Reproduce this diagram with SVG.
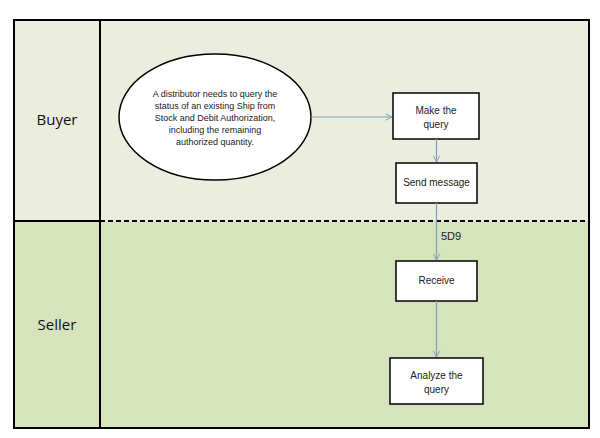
<svg xmlns="http://www.w3.org/2000/svg" width="600" height="438" viewBox="0 0 600 438">
<defs>
<marker id="arr" viewBox="0 0 10 10" refX="9" refY="5" markerWidth="8" markerHeight="8" markerUnits="userSpaceOnUse" orient="auto">
<path d="M1,1 L9,5 L1,9" fill="none" stroke="#7f9fbf" stroke-width="1.2"/>
</marker>
<style>
.box{fill:#ffffff;stroke:#000000;stroke-width:1.5}
.t{font-family:"Liberation Sans",Arial,sans-serif;font-size:10px;fill:#222;text-anchor:middle}
.lane{font-family:"Open Sans","Noto Sans",sans-serif;font-size:15px;fill:#111;text-anchor:middle}
.conn{stroke:#7f9fbf;stroke-width:1.2;fill:none}
</style>
</defs>
<rect width="600" height="438" fill="#ffffff"/>
<g id="lanes">
<rect x="14" y="20" width="575" height="201" fill="#ebeddf"/>
<rect x="14" y="221" width="575" height="207" fill="#d7e3bd"/>
<line x1="14" y1="221" x2="100" y2="221" stroke="#000" stroke-width="2"/>
<line x1="100" y1="221" x2="589" y2="221" stroke="#000" stroke-width="2" stroke-dasharray="5,3"/>
<line x1="100" y1="20" x2="100" y2="428" stroke="#000" stroke-width="2"/>
<rect x="14" y="20" width="575" height="408" fill="none" stroke="#000" stroke-width="2"/>
<text class="lane" x="57" y="125">Buyer</text>
<text class="lane" x="57" y="330">Seller</text>
</g>
<g id="start">
<ellipse cx="215" cy="117" rx="96" ry="63" fill="#ffffff" stroke="#000" stroke-width="1.5"/>
<text class="t" font-size="9" style="font-size:9px" x="215" y="97">A distributor needs to query the</text>
<text class="t" style="font-size:9px" x="215" y="109">status of an existing Ship from</text>
<text class="t" style="font-size:9px" x="215" y="121">Stock and Debit Authorization,</text>
<text class="t" style="font-size:9px" x="215" y="133">including the remaining</text>
<text class="t" style="font-size:9px" x="215" y="145">authorized quantity.</text>
</g>
<g id="make">
<rect class="box" x="393" y="93" width="86" height="46"/>
<text class="t" x="436" y="114">Make the</text>
<text class="t" x="436" y="128">query</text>
</g>
<g id="send">
<rect class="box" x="396" y="163" width="81" height="40"/>
<text class="t" x="436.5" y="186">Send message</text>
</g>
<g id="receive">
<rect class="box" x="396" y="261" width="81" height="40"/>
<text class="t" x="436.5" y="284">Receive</text>
</g>
<g id="analyze">
<rect class="box" x="390" y="358" width="93" height="46"/>
<text class="t" x="436.5" y="379">Analyze the</text>
<text class="t" x="436.5" y="393">query</text>
</g>
<g id="connectors">
<line class="conn" x1="311" y1="117" x2="392" y2="117" marker-end="url(#arr)"/>
<line class="conn" x1="436.5" y1="139" x2="436.5" y2="162" marker-end="url(#arr)"/>
<line class="conn" x1="436.5" y1="203" x2="436.5" y2="260" marker-end="url(#arr)"/>
<line class="conn" x1="436.5" y1="301" x2="436.5" y2="357" marker-end="url(#arr)"/>
<text x="441" y="240" font-family="Liberation Sans,Arial,sans-serif" font-size="11" fill="#222">5D9</text>
</g>
</svg>
